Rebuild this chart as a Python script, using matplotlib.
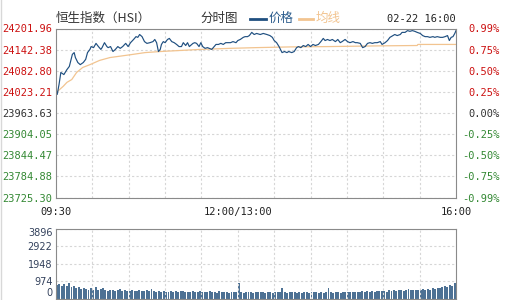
import matplotlib
matplotlib.use("Agg")
import matplotlib.pyplot as plt
from matplotlib.lines import Line2D
import numpy as np

# trading minutes since 09:30 (12:00 and 13:00 share minute 150)
price_min = [0, 1, 2.5, 4, 6.5, 9, 11, 13.5, 15, 16, 18, 20, 22.5, 24.5, 26, 28, 29, 31, 33, 35,
             37, 38, 40, 42, 43, 45, 47, 49, 51, 53, 55, 57.5, 59.5, 61.5, 64, 66, 67.5, 69, 71, 73,
             75, 77.5, 80, 81.5, 83, 84.5, 86, 87, 88.5, 90, 92, 93.5, 95.5, 97.5, 99.5, 101.5, 103.5, 105, 107, 108.5,
             110, 112, 113, 114.5, 116, 118, 119.5, 121, 123, 125, 126.5, 128.5, 130.5, 132, 134, 136, 138, 140, 142, 144,
             146, 148.5, 150, 152, 154.5, 156, 158, 159.5, 161.5, 163.5, 165.5, 168.5, 171, 174, 176.5, 178.5, 180, 182, 184, 186.5,
             188.5, 190.5, 192, 194.5, 196.5, 198.5, 200, 202, 204, 206, 208, 210, 212, 214, 216.5, 218.5, 220.5, 222, 224, 226,
             228, 230.5, 232.5, 234.5, 236, 238.5, 240.5, 242.5, 245, 247, 248.5, 251, 253, 255, 257, 259, 261, 263, 265, 267.5,
             269, 271.5, 273.5, 275.5, 278, 279.5, 281.5, 284, 285.5, 288, 290, 292, 294, 296, 298, 300.5, 302.5, 304.5, 306.5, 308.5,
             311, 312.5, 314.5, 317, 319, 321, 323, 324.5, 326, 327.5, 329, 330]
price = [24030, 24016, 24044, 24078, 24072, 24086, 24095, 24129, 24134, 24120, 24106, 24100, 24106, 24115, 24134, 24143, 24151, 24148, 24160, 24151,
         24143, 24148, 24162, 24151, 24148, 24151, 24137, 24143, 24151, 24146, 24151, 24160, 24151, 24162, 24171, 24179, 24177, 24185, 24179, 24165,
         24160, 24162, 24165, 24171, 24162, 24137, 24143, 24157, 24165, 24162, 24171, 24174, 24165, 24162, 24157, 24151, 24151, 24162, 24154, 24162,
         24151, 24157, 24160, 24162, 24160, 24151, 24162, 24151, 24146, 24148, 24146, 24143, 24151, 24157, 24157, 24160, 24157, 24162, 24162, 24162,
         24165, 24162, 24168, 24171, 24177, 24179, 24179, 24182, 24191, 24185, 24188, 24185, 24188, 24185, 24182, 24177, 24168, 24162, 24151, 24134,
         24137, 24134, 24137, 24134, 24137, 24148, 24151, 24148, 24154, 24151, 24157, 24151, 24157, 24154, 24157, 24165, 24174, 24168, 24171, 24168,
         24171, 24165, 24171, 24162, 24165, 24171, 24165, 24162, 24165, 24162, 24162, 24160, 24148, 24151, 24160, 24162, 24160, 24162, 24162, 24165,
         24157, 24162, 24168, 24177, 24182, 24185, 24182, 24185, 24191, 24191, 24196, 24194, 24196, 24194, 24191, 24188, 24182, 24179, 24179, 24177,
         24179, 24177, 24179, 24177, 24177, 24179, 24182, 24168, 24177, 24179, 24188, 24196]

avg_min = [0, 3, 6, 9, 13, 17, 22, 28, 36, 44.5, 53, 63.5, 73.5, 86, 102.5, 119, 143.5, 165, 193, 226, 267, 298, 298.5, 330]
avg = [24020, 24030, 24039, 24050, 24058, 24078, 24092, 24100, 24112, 24120, 24124, 24129, 24134, 24137, 24140, 24143, 24146, 24148, 24150, 24151,
       24153, 24154, 24157, 24157]

# volume, one bar per 2 minutes
volume = [750, 820, 680, 800, 720, 840, 650, 700,
          560, 620, 520, 600, 540, 480, 560, 500, 620, 450, 520, 580,
          480, 420, 500, 460, 400, 450, 520, 430, 470, 400, 440, 460, 410, 430, 480, 420, 390, 450, 410, 520, 400,
          380, 420, 350, 400, 380, 360, 410, 370, 390, 350, 400, 430, 360, 380, 340, 420, 370, 350, 390, 360, 340,
          380, 410, 350, 370, 330, 390, 360, 340, 380, 320, 350, 370, 340,
          860,
          350, 330, 370, 340, 360, 320, 380, 350, 340, 340, 330, 370, 350, 320, 360, 340, 380, 560, 350, 310, 360, 340,
          370, 330, 350, 320, 340, 360, 330, 370, 350, 340, 320, 360, 330, 350, 560, 370, 320, 350, 340, 330, 360, 350, 370,
          360, 340, 380, 350, 370, 390, 360, 400, 380, 420, 370, 400, 390, 430, 410, 380, 450, 420, 480, 440, 460, 500,
          430, 470, 520, 460, 480, 450, 500, 470, 520, 490, 540, 480, 560,
          520, 600, 560, 650, 700, 620, 760, 680, 850, 1150]

prev_close = 23963.63
price_ticks = [23725.30, 23784.88, 23844.47, 23904.05, 23963.63, 24023.21, 24082.80, 24142.38, 24201.96]
pct_labels = ["-0.99%", "-0.75%", "-0.50%", "-0.25%", "0.00%", "0.25%", "0.50%", "0.75%", "0.99%"]
vol_ticks = [0, 974, 1948, 2922, 3896]
time_ticks = [0, 150, 330]
time_labels = ["09:30", "12:00/13:00", "16:00"]

RED, GREEN, GREY = "#cc1111", "#338833", "#333333"
BLUE, ORANGE = "#1f4f80", "#f2c490"
MONO = "DejaVu Sans Mono"
CJK = ["Noto Sans CJK SC", "DejaVu Sans"]

def tick_colour(v):
    if abs(v - prev_close) < 0.01:
        return GREY
    return RED if v > prev_close else GREEN

fig = plt.figure(figsize=(5.09, 3.0), dpi=100)
W, H = 509.0, 300.0

ax = fig.add_axes([56 / W, 1 - 197.5 / H, 400 / W, 169 / H])
ax.plot(avg_min, avg, color=ORANGE, lw=0.9)
ax.plot(price_min, price, color=BLUE, lw=0.85)
ax.set_xlim(0, 330)
ax.set_ylim(price_ticks[0], price_ticks[-1])

ax.set_yticks(price_ticks)
ax.set_yticklabels(["%.2f" % v for v in price_ticks], family=MONO, fontsize=7.5)
for lab, v in zip(ax.get_yticklabels(), price_ticks):
    lab.set_color(tick_colour(v))
ax.set_xticks(time_ticks)
ax.set_xticklabels(time_labels, family=MONO, fontsize=7.5, color="#222222")
ax.set_xticks(np.arange(30, 330, 30), minor=True)
ax.tick_params(axis="both", which="both", length=0)
ax.tick_params(axis="y", pad=2.5)
ax.tick_params(axis="x", pad=7)
ax.grid(True, which="minor", axis="x", color="#d6d6d6", ls=(0, (2, 2)), lw=0.8)
ax.grid(True, which="major", axis="y", color="#d6d6d6", ls=(0, (2, 2)), lw=0.8)
for s in ax.spines.values():
    s.set_color("#8a8a8a")

ax2 = ax.twinx()
ax2.set_ylim(ax.get_ylim())
ax2.set_yticks(price_ticks)
ax2.set_yticklabels(pct_labels, family=MONO, fontsize=7.5)
ax2.tick_params(axis="y", length=0, pad=31.7)
for lab, v in zip(ax2.get_yticklabels(), price_ticks):
    lab.set_color(tick_colour(v))
    lab.set_horizontalalignment("right")
for s in ax2.spines.values():
    s.set_visible(False)

# volume panel
axv = fig.add_axes([56 / W, 1 - 298.5 / H, 400 / W, 70 / H])
vol_min = np.arange(len(volume)) * 2
axv.bar(vol_min, volume, width=1.6, align="edge", color="#4d7194", linewidth=0)
axv.set_xlim(0, 330)
axv.set_ylim(0, vol_ticks[-1])
axv.set_yticks(vol_ticks)
axv.set_yticklabels([str(v) for v in vol_ticks], fontsize=7, color="#33415c")
labs = axv.get_yticklabels()
labs[0].set_verticalalignment("bottom")
labs[-1].set_verticalalignment("top")
axv.set_xticks([])
axv.set_xticks(np.arange(30, 330, 30), minor=True)
axv.tick_params(axis="both", which="both", length=0, labelbottom=False)
axv.tick_params(axis="y", pad=2.5)
axv.grid(True, which="minor", axis="x", color="#d6d6d6", ls=(0, (2, 2)), lw=0.8)
axv.grid(True, which="major", axis="y", color="#d6d6d6", ls=(0, (2, 2)), lw=0.8)
for s in axv.spines.values():
    s.set_color("#8a8a8a")

# header
ty = 1 - 18.5 / H
fig.text(56 / W, ty, "恒生指数（HSI）", family=CJK, fontsize=9, color="#333333", va="center")
fig.text(200 / W, ty, "分时图", family=CJK, fontsize=9, color="#333333", va="center")
fig.add_artist(Line2D([250 / W, 266 / W], [ty, ty], color=BLUE, lw=2))
fig.text(269 / W, ty, "价格", family=CJK, fontsize=9, color="#2a5b8c", va="center")
fig.add_artist(Line2D([299 / W, 313 / W], [ty, ty], color=ORANGE, lw=2))
fig.text(316 / W, ty, "均线", family=CJK, fontsize=9, color=ORANGE, va="center")
fig.text(456 / W, ty, "02-22 16:00", family=MONO, fontsize=7.5, color="#222222", va="center", ha="right")

fig.add_artist(Line2D([1 / W, 1 / W], [0, 1], color="#d8d8d8", lw=1))

fig.savefig("out.png", dpi=100)
